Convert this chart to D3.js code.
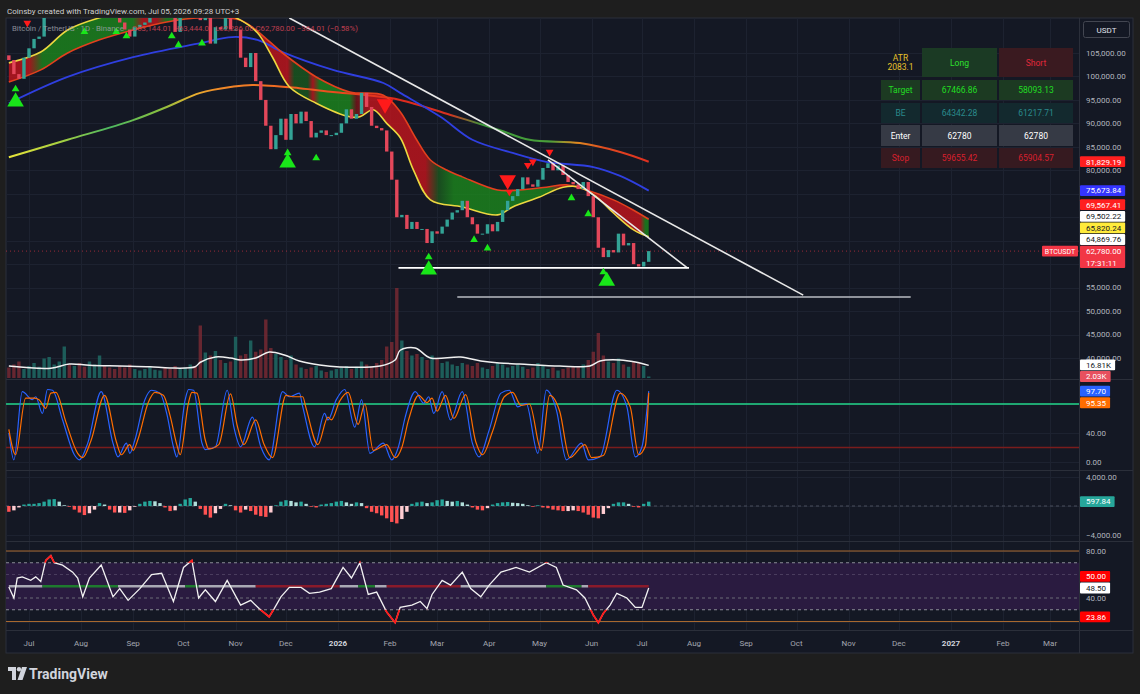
<!DOCTYPE html>
<html><head><meta charset="utf-8">
<script src="https://cdn.jsdelivr.net/npm/d3@7/dist/d3.min.js"></script>
<style>
html,body{margin:0;padding:0;background:#1e1e1e;overflow:hidden}
text{font-family:Roboto,"Noto Sans","DejaVu Sans",sans-serif}
</style></head><body>
<svg id="chart" width="1140" height="694"></svg>
<script>
// ================= DATA =================
const startDate = "2025-06-19";   // date of first bar
const barStep = 3;                // days per bar
const firstOpen = 104500;
const closes = [
103500,100500,99500,104000,106000,108000,108500,113000,117500,118000,
118000,119000,117500,118000,115500,114000,115000,118000,120000,117500,
115000,113000,111500,110000,108500,110500,111000,111500,114000,116000,
116500,115500,112500,109500,114000,118500,123000,122000,112000,113000,
107000,110500,110000,113500,110000,110000,104000,102000,105000,99000,
95000,89500,84500,87500,91000,86500,92000,90000,92500,90500,
87000,88000,88500,87500,87500,88000,90000,93000,91000,92000,
96500,93500,89500,89000,88500,84000,78000,70000,70500,67500,
69000,67500,67500,64500,67000,66500,68000,69500,71000,71500,
73500,70000,68500,66500,66500,68500,67000,69000,71500,73500,
74500,76000,78500,77000,76500,78000,80500,81500,80000,81000,
79000,77500,77000,76000,77500,74500,70000,63500,61500,63000,
62500,66500,64000,64500,60000,59500,60500,62780];
const volumes = [ // thousands
14,18,22,12,16,20,15,26,28,18,
22,42,18,16,20,15,22,18,30,16,
14,12,16,14,18,12,10,12,15,11,
10,14,12,16,12,14,18,15,70,34,
30,36,24,20,22,55,30,32,50,35,
38,78,40,32,28,24,30,18,14,12,
14,16,10,8,10,12,14,16,12,15,
22,18,16,20,24,42,48,120,50,36,
30,32,28,24,30,26,20,22,18,16,
20,18,16,20,14,12,16,20,18,14,
16,18,15,12,14,20,16,12,14,10,
12,14,16,15,18,24,35,60,30,22,
20,26,18,15,22,20,16,2.03];
const macdHist = [
-800,-600,-200,200,300,300,400,600,900,950,
600,100,-100,-500,-900,-1250,-1000,-500,400,200,
-500,-900,-900,-950,-600,-100,300,600,700,650,
400,-200,-700,-600,300,900,1100,600,-400,-1200,
-1600,-1000,-400,300,100,-600,-900,-500,-700,-1200,
-1400,-1500,-900,100,600,800,700,500,600,300,
-100,-200,200,300,400,600,700,500,300,500,
400,-300,-800,-1000,-1300,-1700,-2200,-2400,-1800,-800,
300,500,600,400,500,800,900,700,600,700,
500,200,-200,-500,-600,-300,200,400,500,550,
450,400,300,100,-100,100,-200,-300,-500,-600,
-700,-700,-600,-700,-900,-1200,-1600,-1700,-1100,-300,
300,500,500,300,-100,-200,300,597.84];
// [day since startDate, value]
const volumeMA = [[0,16],[25,13],[36,18.7],[48,17],[66,16],[84,15],[96,13.3],[111,15],[114,21],[123,28],[132,26.7],[138,24],[147,26.7],[155,34.7],[164,30.7],[173,22.7],[185,17.3],[197,14.7],[221,16],[230,24],[233,37],[242,40],[251,26.7],[269,28],[281,22.7],[292,20],[304,18.7],[328,16],[346,16],[352,22.7],[364,24],[373,21.3],[381,16.81]];
const blueMA = [[0,94300],[35,99900],[74,104100],[114,107100],[133,108400],[148,107800],[163,105200],[193,101400],[223,98600],[233,96500],[257,91400],[276,86500],[300,83700],[320,81800],[348,80700],[364,78800],[381,75673.84]];
const longMA = [[0,82800],[35,86500],[74,90700],[94,93500],[114,96500],[133,97800],[145,98200],[173,97500],[193,96700],[213,96000],[233,95000],[263,91800],[292,88600],[310,86500],[340,85800],[364,83900],[381,81829.19]];
const slowMA = [[0,98800],[19,101400],[35,105000],[54,107800],[74,109900],[94,111600],[114,112500],[138,112000],[154,107800],[163,105000],[183,99900],[203,96700],[223,96000],[233,92500],[242,87000],[251,82200],[261,80000],[270,78600],[291,75800],[304,75800],[320,76400],[332,76900],[344,75800],[360,73700],[372,71500],[381,69567.41]];
const fastMA = [[0,102900],[19,105200],[35,109900],[54,112500],[74,114000],[94,115000],[114,115000],[138,112000],[148,109300],[157,104100],[167,97800],[183,94300],[203,91400],[209,91400],[217,92900],[225,90000],[233,87000],[241,80000],[251,73700],[270,72200],[291,70500],[300,72200],[316,74300],[330,76400],[340,76400],[350,74300],[360,70900],[372,67300],[381,65820.24]];
const longMAColors = [[0,"#e8e43a"],[30,"#a8d040"],[60,"#4cb860"],[90,"#88c040"],[110,"#e8b030"],[125,"#f08a28"],[160,"#f06a22"],[200,"#e8461e"],[230,"#e02a1e"],[262,"#d83020"],[282,"#3a9a3a"],[322,"#4a9e3a"],[338,"#e08a20"],[355,"#e04a20"],[381,"#e03020"]];
const ribbonZones = [[0,"r"],[12,"r"],[20,"g"],[74,"g"],[80,"r"],[88,"r"],[94,"g"],[106,"g"],[112,"r"],[166,"r"],[170,"dg"],[178,"dg"],[181,"r"],[185,"g"],[203,"g"],[207,"dr"],[215,"r"],[248,"r"],[256,"dg"],[265,"g"],[310,"g"],[322,"g"],[328,"r"],[376,"r"],[379,"g"],[381,"g"]];
const stochK = [[0,40],[3,3],[8,97],[14,86],[16,90],[20,67],[23,100],[26,99],[32,58],[39,10],[42,3],[47,26],[55,97],[62,26],[65,7],[70,26],[72,12],[75,30],[81,86],[85,99],[90,95],[94,67],[98,21],[100,7],[105,86],[107,100],[110,99],[115,26],[117,17],[123,21],[130,99],[134,48],[138,21],[145,62],[150,21],[155,3],[163,97],[167,90],[173,95],[175,76],[182,21],[188,67],[190,58],[195,86],[200,100],[206,48],[210,86],[215,12],[223,26],[228,3],[232,21],[236,62],[242,97],[247,81],[250,90],[253,67],[258,97],[263,58],[270,97],[276,26],[280,7],[286,44],[293,95],[298,99],[303,76],[308,81],[315,12],[320,99],[326,72],[332,3],[341,26],[345,3],[352,7],[362,99],[368,76],[373,7],[377,21],[381,97.70]];
const stochD = [[0,45],[4,10],[10,88],[15,88],[18,86],[22,74],[25,95],[28,96],[34,55],[41,12],[44,6],[49,30],[57,92],[64,28],[67,10],[72,24],[74,16],[77,32],[83,82],[87,96],[92,92],[96,64],[100,24],[102,10],[107,82],[109,96],[112,95],[117,30],[119,18],[125,24],[132,94],[136,50],[140,24],[147,58],[152,24],[157,6],[165,92],[169,90],[175,90],[177,74],[184,24],[190,62],[192,58],[197,84],[202,96],[208,52],[212,80],[217,16],[225,24],[230,6],[234,20],[238,58],[244,92],[249,82],[252,88],[255,70],[260,92],[265,60],[272,93],[278,28],[282,10],[288,42],[295,90],[300,96],[305,78],[310,80],[317,16],[322,92],[328,70],[334,6],[343,24],[347,6],[354,9],[364,95],[370,76],[375,10],[379,22],[381,95.35]];
const rsi = [[0,49.4],[3,40],[5,57],[8,58],[13,55],[16,58],[19,54],[22,72],[25,76],[27,70],[32,68],[38,62],[41,57],[44,41],[48,57],[55,68],[62,41],[66,48],[71,38],[78,48],[85,60],[91,61],[98,37],[104,66],[109,72],[113,40],[117,47],[123,37],[130,55],[138,34],[144,38],[149,31],[155,24],[158,31],[162,41],[167,49],[174,49],[179,44],[185,45],[192,48],[199,66],[204,57],[209,70],[214,43],[219,45],[225,28],[230,19],[233,32],[240,34],[245,37],[249,31],[252,43],[258,55],[263,51],[270,62],[275,48],[281,41],[286,51],[293,62],[302,66],[310,62],[320,70],[326,66],[330,51],[338,47],[343,40],[348,25.5],[351,19],[354,27],[358,34],[362,44],[368,40],[373,32],[377,32],[381,48.5]];
const rsiMidZones = [[0,20,"w"],[20,65,"g"],[65,105,"w"],[105,113,"g"],[113,147,"w"],[147,197,"r"],[197,208,"w"],[208,218,"g"],[218,225,"w"],[225,269,"r"],[269,320,"w"],[320,341,"g"],[341,345,"w"],[345,381,"r"]];
const signalsUpSmall = [["2025-06-23",97300],["2025-08-03",109500],["2025-08-22",109500],["2025-08-28",108600],["2025-09-24",108600],["2025-09-28",106700],["2025-10-12",107100],["2025-12-02",83700],["2025-12-19",82600],["2026-02-24",61500],["2026-03-23",65200],["2026-03-31",63400],["2026-05-20",74100],["2026-05-30",70700],["2026-06-08",58300]];
const signalsUpBig = [["2025-06-23",94600],["2025-12-02",81600],["2026-02-24",58800],["2026-06-10",56400]];
const signalsDownSmall = [["2025-06-30",111400],["2026-04-13",75400],["2026-04-24",81100],["2026-04-27",81800],["2026-05-07",83900]];
const signalsDownBig = [["2026-01-29",94100],["2026-04-12",77900]];
const trendLines = [
  {a:["2025-12-03",112460],b:["2026-10-05",53400],c:"#e8e8e8"},
  {a:["2026-05-06",82200],b:["2026-07-28",59200],c:"#e8e8e8"},
  {a:["2026-02-06",59200],b:["2026-07-29",59200],c:"#ffffff"},
  {a:["2026-03-13",53000],b:["2026-12-08",53000],c:"#b8bbc2"}];
const priceTicks = [40000,45000,50000,55000,60000,65000,70000,75000,80000,85000,90000,95000,100000,105000];
const stochTicks = [0,40,80];
const macdTicks = [-4000,0,4000];
const rsiTicks = [20,40,80];
const months = [["2025-07-01","Jul"],["2025-08-01","Aug"],["2025-09-01","Sep"],["2025-10-01","Oct"],["2025-11-01","Nov"],["2025-12-01","Dec"],["2026-01-01","2026"],["2026-02-01","Feb"],["2026-03-01","Mar"],["2026-04-01","Apr"],["2026-05-01","May"],["2026-06-01","Jun"],["2026-07-01","Jul"],["2026-08-01","Aug"],["2026-09-01","Sep"],["2026-10-01","Oct"],["2026-11-01","Nov"],["2026-12-01","Dec"],["2027-01-01","2027"],["2027-02-01","Feb"],["2027-03-01","Mar"]];
const tableHeader = [["ATR","2083.1"],["Long"],["Short"]];
const tableRows = [["Target","67466.86","58093.13"],["BE","64342.28","61217.71"],["Enter","62780","62780"],["Stop","59655.42","65904.57"]];
const otherLines = [69502.22, 64869.76];
const lastPrice = 62780.00, countdown = "17:31:11";
const rsiOther = 23.86, rsiMid = 50;

// ================= LAYOUT =================
const svg = d3.select("#chart");
const PL = 6, PR = 1079, AXX = 1086;
const P = {main:[18,379], stoch:[380,470], macd:[471,541], rsi:[542,630]};
const parse = d3.utcParse("%Y-%m-%d");
const t0 = parse(startDate);
const dayDate = d => new Date(t0.getTime() + d*864e5);
const x = d3.scaleUtc().domain([parse("2025-07-01"), parse("2026-07-01")]).range([29, 642]);
const yP = d3.scaleLinear().domain([40000,105000]).range([358,53]);
const yV = d3.scaleLinear().domain([0,120]).range([378,288]);
const yS = d3.scaleLinear().domain([0,100]).range([462,389.5]);
const yM = d3.scaleLinear().domain([-4000,4000]).range([535,477]);
const yR = d3.scaleLinear().domain([20,80]).range([621.5,551]);
const bars = closes.map((c,k)=>({d:dayDate(k*barStep), o:k?closes[k-1]:firstOpen, c, v:volumes[k], m:macdHist[k], pm:k?macdHist[k-1]:0}));
const BW = 3.4;

const defs = svg.append("defs");
function clip(id, y0, y1){ defs.append("clipPath").attr("id",id).append("rect").attr("x",PL).attr("y",y0).attr("width",PR-PL).attr("height",y1-y0); }
clip("cMain",P.main[0],P.main[1]); clip("cStoch",P.stoch[0],P.stoch[1]); clip("cMacd",P.macd[0],P.macd[1]); clip("cRsi",P.rsi[0],P.rsi[1]);
clip("cRsiHi",P.rsi[0],yR(70)); clip("cRsiLo",yR(30),P.rsi[1]);

// backgrounds
svg.append("rect").attr("width",1140).attr("height",694).attr("fill","#1e1e1e");
svg.append("rect").attr("x",PL).attr("y",18).attr("width",1133-PL).attr("height",653-18).attr("fill","#141824").attr("stroke","#2b2f3a");

// grid
const grid = svg.append("g").attr("stroke","#1d2230").attr("stroke-width",1);
months.forEach(m=>{const gx=Math.round(x(parse(m[0])))+0.5; grid.append("line").attr("x1",gx).attr("x2",gx).attr("y1",18).attr("y2",630);});
priceTicks.forEach(v=>{const gy=Math.round(yP(v))+0.5; grid.append("line").attr("x1",PL).attr("x2",PR).attr("y1",gy).attr("y2",gy);});
stochTicks.forEach(v=>{const gy=Math.round(yS(v))+0.5; grid.append("line").attr("x1",PL).attr("x2",PR).attr("y1",gy).attr("y2",gy);});
macdTicks.forEach(v=>{const gy=Math.round(yM(v))+0.5; grid.append("line").attr("x1",PL).attr("x2",PR).attr("y1",gy).attr("y2",gy);});
rsiTicks.forEach(v=>{const gy=Math.round(yR(v))+0.5; grid.append("line").attr("x1",PL).attr("x2",PR).attr("y1",gy).attr("y2",gy);});

// ================= MAIN PANE =================
const main = svg.append("g").attr("clip-path","url(#cMain)");
// volume
main.selectAll(".vb").data(bars).join("rect")
  .attr("x",b=>x(b.d)-BW/2).attr("width",BW)
  .attr("y",b=>yV(b.v)).attr("height",b=>Math.max(0.5,yV(0)-yV(b.v)))
  .attr("fill",b=>b.c>=b.o?"#1f6f68":"#7c2a33").attr("opacity",0.8);
const lineDay = (ys)=>d3.line().x(p=>x(dayDate(p[0]))).y(p=>ys(p[1])).curve(d3.curveCatmullRom.alpha(0.5));
main.append("path").attr("d",lineDay(yV)(volumeMA)).attr("fill","none").attr("stroke","#f0f0f0").attr("stroke-width",1.5);

// ribbon fill with gradient
const zoneCol = {r:"#c8141c", g:"#1c8a1c", dg:"#1a5a1e", dr:"#7a1418"};
const rg = defs.append("linearGradient").attr("id","ribG").attr("gradientUnits","userSpaceOnUse").attr("x1",PL).attr("x2",PR).attr("y1",0).attr("y2",0);
ribbonZones.forEach(z=>rg.append("stop").attr("offset",(x(dayDate(z[0]))-PL)/(PR-PL)).attr("stop-color",zoneCol[z[1]]));
const lg = lineDay(yP);
const fastD = lg(fastMA), slowRev = lg(slowMA.slice().reverse());
main.append("path").attr("d",fastD + "L" + slowRev.slice(1) + "Z").attr("fill","url(#ribG)").attr("opacity",0.78);

// long MA with gradient
const lgr = defs.append("linearGradient").attr("id","longG").attr("gradientUnits","userSpaceOnUse").attr("x1",PL).attr("x2",PR).attr("y1",0).attr("y2",0);
longMAColors.forEach(z=>lgr.append("stop").attr("offset",(x(dayDate(z[0]))-PL)/(PR-PL)).attr("stop-color",z[1]));
main.append("path").attr("d",lg(longMA)).attr("fill","none").attr("stroke","url(#longG)").attr("stroke-width",2);
main.append("path").attr("d",lg(blueMA)).attr("fill","none").attr("stroke","#2f3fe0").attr("stroke-width",1.8);
main.append("path").attr("d",lg(slowMA)).attr("fill","none").attr("stroke","#e3401e").attr("stroke-width",1.6);
main.append("path").attr("d",fastD).attr("fill","none").attr("stroke","#ecd840").attr("stroke-width",1.6);

// candles
main.selectAll(".cd").data(bars).join("rect")
  .attr("x",b=>x(b.d)-BW/2).attr("width",BW)
  .attr("y",b=>yP(Math.max(b.o,b.c))).attr("height",b=>Math.max(1,Math.abs(yP(b.o)-yP(b.c))))
  .attr("fill",b=>b.c>=b.o?"#33a396":"#e3475a");

// last price dotted line
main.append("line").attr("x1",PL).attr("x2",PR).attr("y1",yP(lastPrice)).attr("y2",yP(lastPrice))
  .attr("stroke","#f23645").attr("stroke-dasharray","1,3").attr("opacity",0.6);

// trend lines
trendLines.forEach(t=>main.append("line")
  .attr("x1",x(parse(t.a[0]))).attr("y1",yP(t.a[1])).attr("x2",x(parse(t.b[0]))).attr("y2",yP(t.b[1]))
  .attr("stroke",t.c).attr("stroke-width",1.6));

// signals
function tri(list, size, color, down){
  main.selectAll(null).data(list).join("path")
    .attr("d",d3.symbol(d3.symbolTriangle).size(size))
    .attr("transform",s=>`translate(${x(parse(s[0]))},${yP(s[1])}) rotate(${down?180:0})`)
    .attr("fill",color);
}
tri(signalsUpSmall,26,"#19e619",false);
tri(signalsUpBig,120,"#19e619",false);
tri(signalsDownSmall,26,"#ff1a1a",true);
tri(signalsDownBig,120,"#ff1a1a",true);

// legend
const leg = svg.append("text").attr("x",12).attr("y",31).attr("font-size",7.8).attr("opacity",0.8);
leg.append("tspan").attr("fill","#a3a6af").text("Bitcoin / TetherUS · 1D · Binance");
leg.append("tspan").attr("dx",8).attr("fill","#e0485a").text("O63,144.01 H63,444.01 L62,286.08 C62,780.00 −364.01 (−0.58%)");

// table
const colX=[881,922,999], colW=[39,75,74], rowY=[48,80,103,125,148], rowH=[29,20,20,21,20];
const headStyle=[{bg:null,fg:"#e8c22a"},{bg:"#1b3a24",fg:"#2ee02e"},{bg:"#3a1a20",fg:"#e0283a"}];
const rowStyle=[{bg:"#1c3a22",fg:"#22dd22"},{bg:"#13292e",fg:"#2a8a8c"},{bg:"#363a45",fg:"#ffffff"},{bg:"#361a20",fg:"#d8202e"}];
const tab = svg.append("g").attr("font-size",8.5).attr("text-anchor","middle");
tableHeader.forEach((c,i)=>{
  if(headStyle[i].bg) tab.append("rect").attr("x",colX[i]).attr("y",rowY[0]).attr("width",colW[i]).attr("height",rowH[0]).attr("fill",headStyle[i].bg);
  const cy=rowY[0]+rowH[0]/2;
  c.forEach((s,j)=>tab.append("text").attr("x",colX[i]+colW[i]/2).attr("y",cy+(j-(c.length-1)/2)*9+3).attr("fill",headStyle[i].fg).text(s));
});
tableRows.forEach((r,ri)=>r.forEach((s,ci)=>{
  tab.append("rect").attr("x",colX[ci]).attr("y",rowY[ri+1]).attr("width",colW[ci]).attr("height",rowH[ri+1]).attr("fill",rowStyle[ri].bg);
  tab.append("text").attr("x",colX[ci]+colW[ci]/2).attr("y",rowY[ri+1]+rowH[ri+1]/2+3).attr("fill",rowStyle[ri].fg).text(s);
}));

// ================= STOCH =================
const st = svg.append("g").attr("clip-path","url(#cStoch)");
st.append("line").attr("x1",PL).attr("x2",PR).attr("y1",yS(80)).attr("y2",yS(80)).attr("stroke","#22d68a").attr("stroke-width",1.6);
st.append("line").attr("x1",PL).attr("x2",PR).attr("y1",yS(20)).attr("y2",yS(20)).attr("stroke","#7a1c1c").attr("stroke-width",1.5);
const lm = ys=>d3.line().x(p=>x(dayDate(p[0]))).y(p=>ys(p[1])).curve(d3.curveMonotoneX);
st.append("path").attr("d",lm(yS)(stochK)).attr("fill","none").attr("stroke","#2962ff").attr("stroke-width",1.2);
st.append("path").attr("d",lm(yS)(stochD)).attr("fill","none").attr("stroke","#ff6d00").attr("stroke-width",1.2);

// ================= MACD =================
const mc = svg.append("g").attr("clip-path","url(#cMacd)");
mc.append("line").attr("x1",PL).attr("x2",PR).attr("y1",yM(0)).attr("y2",yM(0)).attr("stroke","#4a4f5c").attr("stroke-dasharray","3,3");
mc.selectAll(null).data(bars).join("rect")
  .attr("x",b=>x(b.d)-BW/2).attr("width",BW)
  .attr("y",b=>yM(Math.max(0,b.m))).attr("height",b=>Math.abs(yM(b.m)-yM(0)))
  .attr("fill",b=>b.m>=0?(b.m>=b.pm?"#26a69a":"#b2dfdb"):(b.m<b.pm?"#ff5252":"#ffcdd2"));

// ================= RSI =================
const rs = svg.append("g").attr("clip-path","url(#cRsi)");
rs.append("rect").attr("x",PL).attr("width",PR-PL).attr("y",yR(70)).attr("height",yR(30)-yR(70)).attr("fill","#2a1b40");
[[80,"#a8682e",null,1],[20,"#a8682e",null,1],[70,"#8a8d96","3,3",1],[30,"#8a8d96","3,3",1],[40,"#6a6d76","3,3",1],[60,"#4a3d5e","3,3",1]].forEach(l=>
  rs.append("line").attr("x1",PL).attr("x2",PR).attr("y1",yR(l[0])).attr("y2",yR(l[0])).attr("stroke",l[1]).attr("stroke-dasharray",l[2]).attr("stroke-width",l[3]));
const midCol={w:"#a9a9b4",g:"#1e7a2e",r:"#8a1a2a"};
rsiMidZones.forEach(z=>rs.append("line").attr("x1",x(dayDate(z[0]))).attr("x2",x(dayDate(z[1]))).attr("y1",yR(rsiMid)).attr("y2",yR(rsiMid)).attr("stroke",midCol[z[2]]).attr("stroke-width",2.5));
const rl = d3.line().x(p=>x(dayDate(p[0]))).y(p=>yR(p[1]));
rs.append("path").attr("d",rl(rsi)).attr("fill","none").attr("stroke","#f2f2f2").attr("stroke-width",1.3);
svg.append("path").attr("clip-path","url(#cRsiHi)").attr("d",rl(rsi)).attr("fill","none").attr("stroke","#ff1a1a").attr("stroke-width",1.8);
svg.append("path").attr("clip-path","url(#cRsiLo)").attr("d",rl(rsi)).attr("fill","none").attr("stroke","#ff1a1a").attr("stroke-width",1.8);

// pane separators & axis line
const sep = svg.append("g").attr("stroke","#2b2f3a");
[379.5,470.5,541.5,630.5].forEach(y=>sep.append("line").attr("x1",PL).attr("x2",1133).attr("y1",y).attr("y2",y));
sep.append("line").attr("x1",PR+0.5).attr("x2",PR+0.5).attr("y1",18).attr("y2",653);

// ================= AXES =================
const ax = svg.append("g").attr("font-size",8).attr("fill","#b2b5be");
const f2 = d3.format(",.2f");
const LH = 11.6;
const boxes = [];
function labels(list){
  const s = list.slice().sort((a,b)=>a.y-b.y);
  s.forEach(l=>{l.h=LH*l.lines.length; l.top=l.y-LH/2;});
  const pi = s.findIndex(l=>l.prio);
  for(let i=pi-1;i>=0;i--){ if(s[i].top+s[i].h>s[i+1].top) s[i].top=s[i+1].top-s[i].h; }
  for(let i=pi+1;i<s.length;i++){ if(s[i].top<s[i-1].top+s[i-1].h) s[i].top=s[i-1].top+s[i-1].h; }
  s.forEach(l=>{
    boxes.push([l.top, l.top+l.h]);
    const g = svg.append("g").attr("font-size",8);
    const r = g.append("rect").attr("x",1080).attr("y",l.top+0.4).attr("height",l.h-0.8).attr("fill",l.bg).attr("rx",1);
    let w=0;
    l.lines.forEach((t,j)=>{ const tx=g.append("text").attr("x",AXX).attr("y",l.top+LH/2+j*LH).attr("dy","0.35em").attr("fill",l.fg||"#fff").text(t); w=Math.max(w,tx.node().getComputedTextLength()); });
    r.attr("width",w+10);
  });
}
const lastOf = a=>a[a.length-1][1];
labels([
  {y:yP(lastOf(longMA)),lines:[f2(lastOf(longMA))],bg:"#ff1f1f"},
  {y:yP(lastOf(blueMA)),lines:[f2(lastOf(blueMA))],bg:"#3434ff"},
  {y:yP(lastOf(slowMA)),lines:[f2(lastOf(slowMA))],bg:"#ff1f1f"},
  {y:yP(otherLines[0]),lines:[f2(otherLines[0])],bg:"#ffffff",fg:"#131722"},
  {y:yP(lastOf(fastMA)),lines:[f2(lastOf(fastMA))],bg:"#ffeb3b",fg:"#131722"},
  {y:yP(otherLines[1]),lines:[f2(otherLines[1])],bg:"#ffffff",fg:"#131722"},
  {y:yP(lastPrice),lines:[f2(lastPrice),countdown],bg:"#f23645",prio:true}]);
labels([
  {y:yV(lastOf(volumeMA)),lines:[lastOf(volumeMA).toFixed(2)+"K"],bg:"#ffffff",fg:"#131722"},
  {y:yV(volumes[volumes.length-1]),lines:[volumes[volumes.length-1].toFixed(2)+"K"],bg:"#e8505e",prio:true}]);
labels([
  {y:yS(lastOf(stochK)),lines:[f2(lastOf(stochK))],bg:"#2962ff",prio:true},
  {y:yS(lastOf(stochD)),lines:[f2(lastOf(stochD))],bg:"#ff6d00"}]);
labels([{y:yM(macdHist[macdHist.length-1]),lines:[f2(macdHist[macdHist.length-1])],bg:"#26a69a",prio:true}]);
labels([
  {y:yR(rsiMid),lines:[f2(rsiMid)],bg:"#ff0000"},
  {y:yR(lastOf(rsi)),lines:[f2(lastOf(rsi))],bg:"#ffffff",fg:"#131722",prio:true},
  {y:yR(rsiOther),lines:[f2(rsiOther)],bg:"#ff0000"}]);

// tick labels (hidden where a value label covers most of them)
function tick(y, txt){
  const hit = boxes.some(b=>Math.min(b[1],y+4)-Math.max(b[0],y-4) > 3.2);
  if(!hit) ax.append("text").attr("x",AXX).attr("y",y).attr("dy","0.35em").text(txt);
}
priceTicks.forEach(v=>tick(yP(v),f2(v)));
stochTicks.forEach(v=>tick(yS(v),f2(v)));
macdTicks.forEach(v=>tick(yM(v),f2(v)));
rsiTicks.forEach(v=>tick(yR(v),f2(v)));

// BTCUSDT tag
const tag = svg.append("g");
tag.append("rect").attr("x",1042).attr("y",yP(lastPrice)-5.4).attr("width",36).attr("height",10.8).attr("fill","#f23645").attr("rx",1);
tag.append("text").attr("x",1060).attr("y",yP(lastPrice)).attr("dy","0.35em").attr("text-anchor","middle").attr("font-size",7).attr("fill","#fff").text("BTCUSDT");

// USDT box
svg.append("rect").attr("x",1083.5).attr("y",21.5).attr("width",46).attr("height",16).attr("rx",2).attr("fill","#141824").attr("stroke","#434651");
svg.append("text").attr("x",1106.5).attr("y",30).attr("dy","0.35em").attr("text-anchor","middle").attr("font-size",8).attr("fill","#e0e3eb").text("USDT");

// time axis
const ta = svg.append("g").attr("font-size",8).attr("text-anchor","middle");
months.forEach(m=>{const yr=/^\d{4}$/.test(m[1]); ta.append("text").attr("x",x(parse(m[0]))).attr("y",646).attr("fill",yr?"#d1d4dc":"#a3a6af").attr("font-weight",yr?"bold":"normal").text(m[1]);});

// header
svg.append("text").attr("x",7).attr("y",14).attr("font-size",8).attr("fill","#d0d0d0").text("Coinsby created with TradingView.com, Jul 05, 2026 09:28 UTC+3");

// logo
const logo = svg.append("g").attr("transform","translate(8,667)").attr("fill","#d1d4dc");
logo.append("path").attr("d","M0,0H8V13H4V4H0Z");
logo.append("circle").attr("cx",11).attr("cy",2.2).attr("r",2.2);
logo.append("path").attr("d","M14,0H19L14.5,13H9.5Z");
svg.append("text").attr("x",29).attr("y",679).attr("font-size",14).attr("font-weight","bold").attr("fill","#d1d4dc").text("TradingView");
</script>
</body></html>
